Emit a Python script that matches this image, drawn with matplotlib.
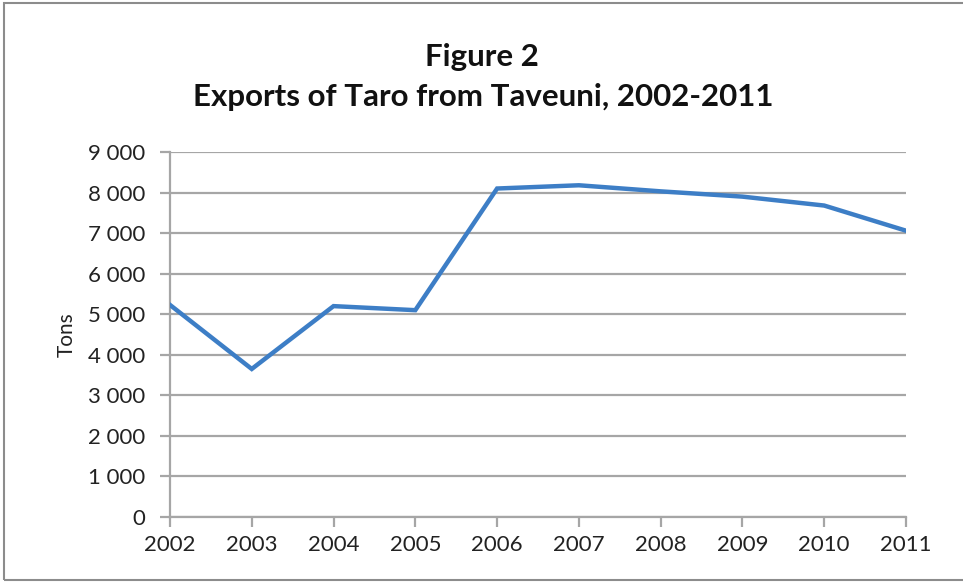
import matplotlib.pyplot as plt
from matplotlib.patches import Rectangle
from matplotlib.ticker import FuncFormatter

plt.rcParams['font.family'] = ['Lato', 'DejaVu Sans']

years = [2002, 2003, 2004, 2005, 2006, 2007, 2008, 2009, 2010, 2011]
exports = [5230, 3650, 5200, 5100, 8100, 8180, 8030, 7900, 7680, 7060]
y_ticks = [0, 1000, 2000, 3000, 4000, 5000, 6000, 7000, 8000, 9000]

grey = '#a6a6a6'
blue = '#3d7ec6'

fig = plt.figure(figsize=(9.63, 5.82), dpi=100)
ax = fig.add_axes([0.1765, 0.1117, 0.7643, 0.6271])

ax.plot(years, exports, color=blue, linewidth=3.2, solid_joinstyle='miter', zorder=3)

ax.set_xlim(years[0], years[-1])
ax.set_ylim(0, 9000)
ax.set_xticks(years)
ax.set_yticks(y_ticks)
ax.yaxis.set_major_formatter(FuncFormatter(lambda v, p: f'{int(v):,}'.replace(',', ' ')))

ax.grid(axis='y', color=grey, linewidth=1.6)
ax.set_axisbelow(True)
for s in ['top', 'right']:
    ax.spines[s].set_visible(False)
for s in ['left', 'bottom']:
    ax.spines[s].set_color(grey)
    ax.spines[s].set_linewidth(1.6)
ax.tick_params(axis='both', colors=grey, labelcolor='#222222', labelsize=16,
               width=1.6, length=7)
ax.tick_params(axis='x', pad=6)
ax.tick_params(axis='y', pad=11)

ax.set_ylabel('Tons', fontsize=15, color='#222222', labelpad=8)

fig.text(0.5, 0.902, 'Figure 2', ha='center', va='center', fontsize=22.5, fontweight='bold', color='#111111')
fig.text(0.502, 0.833, 'Exports of Taro from Taveuni, 2002-2011', ha='center', va='center',
         fontsize=22.5, fontweight='bold', color='#111111')

fig.patches.append(Rectangle((0.004, 0.004), 1.0, 0.99, transform=fig.transFigure,
                             fill=False, edgecolor='#8c8c8c', linewidth=1.5))

fig.savefig('out.png', dpi=100)
